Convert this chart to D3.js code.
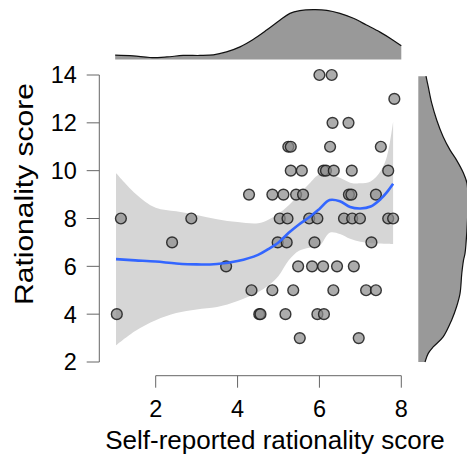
<!DOCTYPE html>
<html><head><meta charset="utf-8">
<script src="https://cdn.jsdelivr.net/npm/d3@7"></script>
<style>html,body{margin:0;padding:0;background:#fff;}svg{display:block;}</style>
</head><body>
<svg id="chart" width="467" height="456"></svg>
<script>
// ---- data ----
const selfReported = [6.0,6.3, 7.83, 6.32,6.71, 5.24,5.3,6.26,7.5,
  5.3,5.57,6.1,6.16,6.35,6.79,7.68,
  4.28,4.85,5.12,5.43,5.6,6.72,6.78,7.38,
  1.15,2.87,5.03,5.22,5.75,5.95,6.6,6.8,6.99,7.68,7.8,
  2.4,4.98,5.2,5.88,7.27,
  3.72,5.48,5.82,6.09,6.43,6.84,
  4.34,4.85,5.36,6.34,7.14,7.38,
  1.05,4.53,4.56,5.17,5.95,6.11,
  5.52,6.96];
const rationality = [14,14, 13, 12,12, 11,11,11,11,
  10,10,10,10,10,10,10,
  9,9,9,9,9,9,9,9,
  8,8,8,8,8,8,8,8,8,8,8,
  7,7,7,7,7,
  6,6,6,6,6,6,
  5,5,5,5,5,5,
  4,4,4,4,4,4,
  3,3];
// loess fit and confidence band
const smoothX  = [1.03,1.5,2,2.5,3,3.5,4,4.5,4.75,5,5.25,5.5,5.75,6,6.25,6.5,6.75,7,7.25,7.5,7.65,7.8];
const smoothY  = [6.3,6.25,6.2,6.12,6.08,6.1,6.22,6.48,6.72,7.0,7.4,7.75,8.05,8.4,8.77,8.72,8.48,8.42,8.5,8.82,9.1,9.45];
const smoothHi = [9.9,9.05,8.45,8.3,8.15,7.97,7.85,7.8,7.95,8.2,8.55,9.0,9.45,9.85,9.85,9.7,9.5,9.47,9.55,10.0,10.6,12.05];
const smoothLo = [2.7,3.3,3.75,4.05,4.2,4.3,4.55,4.92,5.2,5.6,6.25,6.65,6.78,6.85,7.4,7.35,7.15,7.03,6.98,6.95,6.94,6.93];
// marginal densities (relative)
const topDensX = [1.01,1.45,1.86,2.27,2.67,3.08,3.41,3.73,4.06,4.38,4.71,5.04,5.28,5.52,5.85,6.18,6.5,6.83,7.15,7.48,7.8,8.0];
const topDens  = [0.087,0.073,0.040,0.052,0.081,0.081,0.093,0.153,0.254,0.403,0.591,0.792,0.927,0.980,1.0,0.988,0.927,0.827,0.692,0.550,0.389,0.274];
const rightDensY = [13.95,13.51,12.82,12.12,11.42,10.86,10.44,9.89,9.47,8.77,7.93,6.96,6.54,6.26,5.70,4.87,4.31,3.75,3.05,2.63,2.36,2.0];
const rightDens  = [0.155,0.20,0.27,0.37,0.50,0.64,0.77,0.91,0.98,1.0,0.99,0.96,0.94,0.91,0.875,0.84,0.77,0.67,0.50,0.30,0.20,0.135];
const xTicks = [2,4,6,8];
const yTicks = [2,4,6,8,10,12,14];

// ---- drawing ----
const svg = d3.select("#chart");
const font = "Arial, 'Liberation Sans', sans-serif";
const x = d3.scaleLinear().domain([2,8]).range([155.7,401.3]);
const y = d3.scaleLinear().domain([2,14]).range([362,75]);
const topS = d3.scaleLinear().domain([0,1]).range([59.5,9.7]);
const rightS = d3.scaleLinear().domain([0,1]).range([418.3,468]);

// top marginal density
const topData = topDensX.map((v,i)=>({v, d:topDens[i]}));
svg.append("path").datum(topData)
  .attr("d", d3.area().x(d=>x(d.v)).y0(topS(0)).y1(d=>topS(d.d)).curve(d3.curveCatmullRom))
  .attr("fill","#999999");
svg.append("path").datum(topData)
  .attr("d", d3.line().x(d=>x(d.v)).y(d=>topS(d.d)).curve(d3.curveCatmullRom))
  .attr("fill","none").attr("stroke","#111").attr("stroke-width",1.2);

// right marginal density
const rightData = rightDensY.map((v,i)=>({v, d:rightDens[i]}));
svg.append("path").datum(rightData)
  .attr("d", d3.area().y(d=>y(d.v)).x0(rightS(0)).x1(d=>rightS(d.d)).curve(d3.curveCatmullRom))
  .attr("fill","#999999");
svg.append("path").datum(rightData)
  .attr("d", d3.line().y(d=>y(d.v)).x(d=>rightS(d.d)).curve(d3.curveCatmullRom))
  .attr("fill","none").attr("stroke","#111").attr("stroke-width",1.2);

// confidence band
const sm = smoothX.map((v,i)=>({v, f:smoothY[i], lo:smoothLo[i], hi:smoothHi[i]}));
svg.append("path").datum(sm)
  .attr("d", d3.area().x(d=>x(d.v)).y0(d=>y(d.lo)).y1(d=>y(d.hi)).curve(d3.curveCatmullRom))
  .attr("fill","#d6d6d6");

// points
const pts = selfReported.map((v,i)=>({x:v, y:rationality[i]}));
svg.append("g").selectAll("circle").data(pts).join("circle")
  .attr("cx",d=>x(d.x)).attr("cy",d=>y(d.y)).attr("r",5.4)
  .attr("fill","#8c8c8c").attr("fill-opacity",0.72)
  .attr("stroke","#1a1a1a").attr("stroke-opacity",0.85).attr("stroke-width",1.4);

// smooth line
svg.append("path").datum(sm)
  .attr("d", d3.line().x(d=>x(d.v)).y(d=>y(d.f)).curve(d3.curveCatmullRom))
  .attr("fill","none").attr("stroke","#3366FF").attr("stroke-width",2.6);

// x axis
const xAx = svg.append("g").attr("transform","translate(0,375.7)");
xAx.append("line").attr("x1",x(2)).attr("x2",x(8)).attr("stroke","#666").attr("stroke-width",1);
xAx.selectAll("line.t").data(xTicks).join("line").attr("class","t")
  .attr("x1",d=>x(d)).attr("x2",d=>x(d)).attr("y1",0).attr("y2",12).attr("stroke","#666");
xAx.selectAll("text").data(xTicks).join("text")
  .attr("x",d=>x(d)).attr("y",41.5).attr("text-anchor","middle")
  .attr("font-family",font).attr("font-size",23.5).attr("fill","#000").text(d=>d);

// y axis
const yAx = svg.append("g").attr("transform","translate(99.3,0)");
yAx.append("line").attr("y1",y(2)).attr("y2",y(14)).attr("stroke","#666").attr("stroke-width",1);
yAx.selectAll("line.t").data(yTicks).join("line").attr("class","t")
  .attr("y1",d=>y(d)).attr("y2",d=>y(d)).attr("x1",0).attr("x2",-12.6).attr("stroke","#666");
yAx.selectAll("text").data(yTicks).join("text")
  .attr("x",-22.5).attr("y",d=>y(d)+8.4).attr("text-anchor","end")
  .attr("font-family",font).attr("font-size",23.5).attr("fill","#000").text(d=>d);

// titles
svg.append("text").attr("x",275).attr("y",449).attr("text-anchor","middle")
  .attr("font-family",font).attr("font-size",26).attr("fill","#000")
  .text("Self-reported rationality score");
svg.append("text").attr("transform","translate(33,194) rotate(-90)").attr("text-anchor","middle")
  .attr("font-family",font).attr("font-size",25.5).attr("fill","#000")
  .attr("textLength",222).attr("lengthAdjust","spacingAndGlyphs")
  .text("Rationality score");
</script>
</body></html>
